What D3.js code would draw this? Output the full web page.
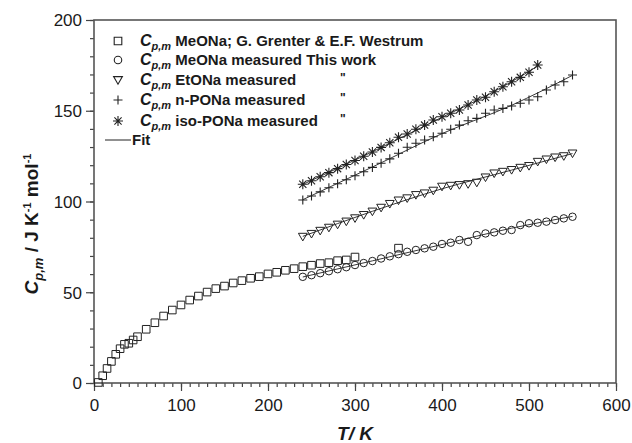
<!DOCTYPE html>
<html>
<head>
<meta charset="utf-8">
<script src="https://cdn.jsdelivr.net/npm/d3@7"></script>
<style>
body { margin: 0; background: #fff; }
text { font-family: "Liberation Sans", Arial, Helvetica, sans-serif; fill: #1a1a1a; }
</style>
</head>
<body>
<script>
// Cp,m of sodium alkoxides vs T
const tGrenter = [5, 10, 15, 20, 25, 30, 35, 40, 45, 50, 60, 70, 80, 90, 100, 110, 120, 130, 140, 150,
                  160, 170, 180, 190, 200, 210, 220, 230, 240, 250, 260, 270, 280, 290, 300, 350]
const cpGrenter = [0.3, 4.0, 8.0, 11.9, 15.8, 18.9, 21.3, 21.9, 23.7, 25.5, 29.6, 33.2, 36.9, 40.2, 43.0, 45.7, 47.9, 50.1, 52.0, 53.4,
                   55.1, 56.4, 57.7, 58.6, 60.1, 61.0, 62.1, 63.0, 64.1, 64.9, 65.8, 66.3, 67.4, 67.8, 69.4, 74.3]

const tMeasured = [240, 250, 260, 270, 280, 290, 300, 310, 320, 330, 340, 350, 360, 370, 380, 390,
                   400, 410, 420, 430, 440, 450, 460, 470, 480, 490, 500, 510, 520, 530, 540, 550]
const cpMeONa = [58.5, 59.4, 60.5, 61.6, 62.7, 63.8, 65.0, 66.1, 67.2, 68.6, 69.8, 71.0, 72.3, 73.3, 74.2, 75.1,
                 76.6, 77.3, 78.8, 77.8, 81.5, 82.4, 83.0, 83.9, 84.3, 87.0, 88.0, 88.3, 88.9, 89.8, 90.7, 91.6]
const cpEtONa = [80.6, 82.2, 83.9, 85.6, 87.3, 89.0, 90.8, 92.6, 94.5, 96.6, 98.7, 100.6, 101.8, 103.6, 104.5, 106.0,
                 108.2, 108.7, 109.1, 109.6, 110.4, 113.3, 115.5, 116.4, 117.4, 118.6, 119.6, 121.9, 123.2, 124.3, 125.0, 126.5]
const cpNPONa = [100.8, 103.0, 105.3, 107.6, 109.8, 112.0, 114.2, 116.4, 118.8, 121.1, 123.5, 126.6, 129.9, 132.1, 133.9, 135.7,
                 137.6, 139.8, 142.1, 144.5, 145.8, 148.6, 150.4, 151.3, 152.6, 154.1, 155.9, 157.7, 161.4, 164.2, 166.0, 169.7]
const tIso = [240, 250, 260, 270, 280, 290, 300, 310, 320, 330, 340, 350, 360, 370,
              380, 390, 400, 410, 420, 430, 440, 450, 460, 470, 480, 490, 500, 510]
const cpIsoPONa = [109.5, 111.4, 113.6, 115.9, 118.1, 120.4, 122.6, 124.9, 127.3, 129.8, 132.4, 135.4, 137.2, 139.8,
                   142.1, 144.9, 146.7, 148.6, 150.4, 153.2, 155.9, 157.4, 160.5, 163.2, 166.0, 168.4, 171.2, 175.2]

// fit curves, a few points
const tFit = [240, 320, 400, 480, 550]
const fitMeONa = [58.4, 67.3, 76.3, 85.3, 91.8]
const fitEtONa = [80.8, 94.6, 107.0, 117.3, 126.4]
const fitNPONa = [101.0, 119.0, 137.4, 153.0, 169.5]
const tFitIso = [240, 320, 400, 460, 510]
const fitIsoPONa = [109.4, 127.4, 146.4, 160.6, 174.6]

const xTicks = [0, 100, 200, 300, 400, 500, 600]
const yTicks = [0, 50, 100, 150, 200]

const legendRows = ["MeONa; G. Grenter & E.F. Westrum", "MeONa measured This work",
                    "EtONa measured", "n-PONa measured", "iso-PONa measured"]

let width = 632
let height = 443
let ink = "#222"

let svg = d3.select("body").append("svg")
    .attr("width", width)
    .attr("height", height)

let x = d3.scaleLinear().domain([0, 600]).range([94, 616])
let y = d3.scaleLinear().domain([0, 200]).range([383, 20])

// minor ticks first, then major ones on top
svg.append("g")
    .attr("transform", "translate(0,383)")
    .call(d3.axisBottom(x).tickValues(d3.range(0, 601, 10)).tickSize(4).tickFormat(""))
svg.append("g")
    .attr("transform", "translate(94,0)")
    .call(d3.axisLeft(y).tickValues(d3.range(0, 201, 10)).tickSize(4).tickFormat(""))

let xAxis = svg.append("g")
    .attr("transform", "translate(0,383)")
    .call(d3.axisBottom(x).tickValues(xTicks).tickSize(8).tickPadding(8))
let yAxis = svg.append("g")
    .attr("transform", "translate(94,0)")
    .call(d3.axisLeft(y).tickValues(yTicks).tickSize(8).tickPadding(4))

svg.selectAll(".domain").remove()
svg.selectAll(".tick line").attr("stroke", "#444").attr("stroke-width", 1.2)
xAxis.selectAll("text").style("font-size", "17px")
yAxis.selectAll("text").style("font-size", "17px").attr("dy", "0.35em")

// frame
svg.append("rect")
    .attr("x", x(0)).attr("y", y(200))
    .attr("width", x(600) - x(0)).attr("height", y(0) - y(200))
    .attr("fill", "none").attr("stroke", "#555").attr("stroke-width", 1.6)

// fit lines
let fitLine = d3.line().x(d => x(d[0])).y(d => y(d[1])).curve(d3.curveMonotoneX)
let fits = [
    [tFit, fitMeONa], [tFit, fitEtONa], [tFit, fitNPONa], [tFitIso, fitIsoPONa]
]
fits.forEach(f => {
    svg.append("path")
        .datum(f[0].map((t, i) => [t, f[1][i]]))
        .attr("d", fitLine)
        .attr("fill", "none").attr("stroke", ink).attr("stroke-width", 0.9)
})

// marker shapes
let shapes = {
    square: "M-3.8,-3.8H3.8V3.8H-3.8Z",
    circle: d3.symbol(d3.symbolCircle, 44)(),
    triangle: "M-4.4,-3.4H4.4L0,4.2Z",
    plus: "M-4.5,0H4.5M0,-4.5V4.5",
    star: "M-5,0H5M0,-5V5M-3.6,-3.6L3.6,3.6M-3.6,3.6L3.6,-3.6"
}

function drawSeries(ts, cps, shape) {
    svg.append("g").selectAll("path")
        .data(ts.map((t, i) => [t, cps[i]]))
        .enter().append("path")
        .attr("transform", d => "translate(" + x(d[0]) + "," + y(d[1]) + ")")
        .attr("d", shapes[shape])
        .attr("fill", shape == "star" ? ink : "#fff")
        .attr("fill-opacity", shape == "star" ? 1 : 0)
        .attr("stroke", ink)
        .attr("stroke-width", shape == "plus" || shape == "star" ? 1.1 : 1)
}

drawSeries(tGrenter, cpGrenter, "square")
drawSeries(tMeasured, cpMeONa, "circle")
drawSeries(tMeasured, cpEtONa, "triangle")
drawSeries(tMeasured, cpNPONa, "plus")
drawSeries(tIso, cpIsoPONa, "star")

// legend
let legendY = [41, 60, 80, 100, 121]
let legendShapes = ["square", "circle", "triangle", "plus", "star"]
let legend = svg.append("g")
legendRows.forEach((label, i) => {
    legend.append("path")
        .attr("transform", "translate(118," + legendY[i] + ")")
        .attr("d", shapes[legendShapes[i]])
        .attr("fill", "none").attr("stroke", ink).attr("stroke-width", 1.1)
    let t = legend.append("text")
        .attr("x", 140).attr("y", legendY[i] + 5)
        .style("font-size", "15px").style("font-weight", "bold")
    t.append("tspan").text("C").style("font-style", "italic").style("font-size", "16px")
    t.append("tspan").text("p,m").style("font-style", "italic").style("font-size", "11px").attr("dy", 4)
    t.append("tspan").text(" " + label).attr("dy", -4)
    if (i >= 2) {
        legend.append("text").attr("x", 340).attr("y", legendY[i] + 2)
            .style("font-size", "12px").style("font-weight", "bold").text('"')
    }
})
legend.append("line")
    .attr("x1", 105).attr("x2", 131).attr("y1", 140).attr("y2", 140)
    .attr("stroke", ink).attr("stroke-width", 1)
legend.append("text").attr("x", 132).attr("y", 145)
    .style("font-size", "15px").style("font-weight", "bold").text("Fit")

// axis titles
let yTitle = svg.append("text")
    .attr("transform", "translate(38,224) rotate(-90)")
    .attr("text-anchor", "middle")
    .style("font-size", "19px").style("font-weight", "bold")
yTitle.append("tspan").text("C").style("font-style", "italic")
yTitle.append("tspan").text("p,m").style("font-style", "italic").style("font-size", "13px").attr("dy", 5)
yTitle.append("tspan").text(" / J K").attr("dy", -5)
yTitle.append("tspan").text("-1").style("font-size", "11px").attr("dy", -7)
yTitle.append("tspan").text(" mol").attr("dy", 7)
yTitle.append("tspan").text("-1").style("font-size", "11px").attr("dy", -7)

let xTitle = svg.append("text")
    .attr("x", 355).attr("y", 440)
    .attr("text-anchor", "middle")
    .style("font-size", "19px").style("font-weight", "bold").style("font-style", "italic")
    .text("T/ K")
</script>
</body>
</html>
